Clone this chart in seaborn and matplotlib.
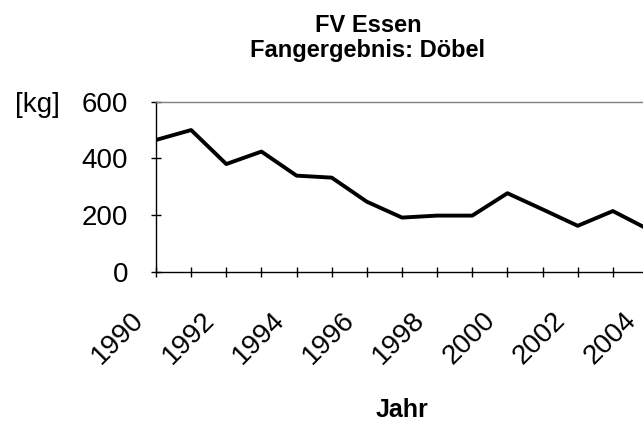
import numpy as np
import pandas as pd
import seaborn as sns
import matplotlib
matplotlib.use("Agg")
import matplotlib.pyplot as plt
from matplotlib.transforms import ScaledTranslation, blended_transform_factory

sns.set_theme(style="white")
plt.rcParams['font.family'] = ['Liberation Sans', 'DejaVu Sans']
plt.rcParams['text.color'] = 'black'
plt.rcParams['axes.labelcolor'] = 'black'

# data
years = [1990, 1991, 1992, 1993, 1994, 1995, 1996, 1997, 1998, 1999,
         2000, 2001, 2002, 2003, 2004]
catch_kg = [465, 500, 380, 424, 339, 332, 247, 191, 198, 198,
            277, 220, 162, 214, 150]
y_ticks = [0, 200, 400, 600]
x_labels = [str(y) if y % 2 == 0 else "" for y in years]

W, H = 643, 422
fig = plt.figure(figsize=(W / 100, H / 100), dpi=100)
fig.patch.set_facecolor("white")
# plot area runs a bit past the right edge of the picture (cropped like the original)
ax = fig.add_axes([156 / W, (H - 271.7) / H, 492 / W, 170 / H])

df = pd.DataFrame({"Jahr": years, "kg": catch_kg})
sns.lineplot(data=df, x="Jahr", y="kg", color="black", linewidth=2.8, ax=ax)

ax.set_xlim(years[0], years[-1])
ax.set_ylim(0, 600)
ax.set_yticks(y_ticks)
ax.set_xticks(years)
ax.set_xticklabels(x_labels)
ax.set_ylabel("")

ax.tick_params(axis="both", direction="inout", length=7.2, width=1,
               color="black", labelsize=20, labelcolor="black")
ax.tick_params(axis="y", pad=16.6, left=True)
ax.tick_params(axis="x", pad=28.5, bottom=True)

for lab in ax.get_xticklabels():
    lab.set_rotation(45)
    lab.set_rotation_mode("anchor")
    lab.set_ha("right")
    lab.set_va("center")
    lab.set_transform(lab.get_transform() + ScaledTranslation(-16 / 100, 0, fig.dpi_scale_trans))

for side in ["left", "bottom"]:
    ax.spines[side].set_color("black")
    ax.spines[side].set_linewidth(1)
ax.spines["top"].set_color("#808080")
ax.spines["top"].set_linewidth(1)
ax.spines["right"].set_visible(False)

ax.set_xlabel("Jahr", fontsize=18, fontweight="bold", color="black")
ax.xaxis.set_label_coords(0.5, (271.7 - 417) / 170)
ax.xaxis.label.set_va("baseline")

trans = blended_transform_factory(fig.transFigure, ax.transData)
ax.text(15 / W, 600, "[kg]", transform=trans, ha="left", va="center_baseline",
        fontsize=20, color="black")

fig.text(368 / W, 1 - 32 / H, "FV Essen", ha="center", va="baseline",
         fontsize=17, fontweight="bold", color="black")
fig.text(368 / W, 1 - 57 / H, "Fangergebnis: Döbel", ha="center", va="baseline",
         fontsize=17, fontweight="bold", color="black")

fig.savefig("out.png", dpi=100)
